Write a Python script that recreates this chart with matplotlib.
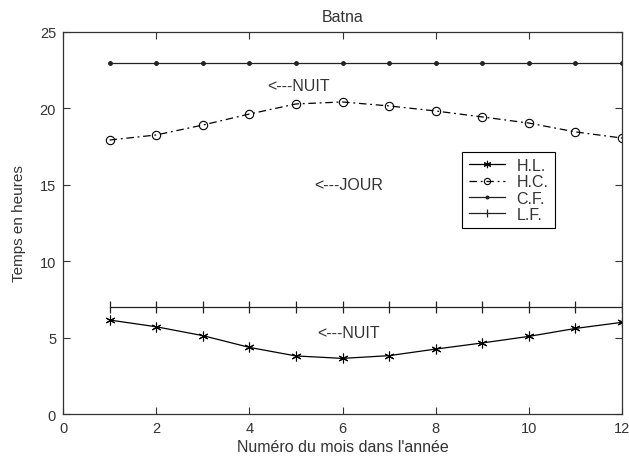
import matplotlib
matplotlib.use("Agg")
import matplotlib.pyplot as plt

plt.rcParams['font.family'] = ['Liberation Sans', 'DejaVu Sans']

months = [1, 2, 3, 4, 5, 6, 7, 8, 9, 10, 11, 12]
hl = [6.15, 5.71, 5.13, 4.36, 3.80, 3.64, 3.82, 4.25, 4.65, 5.08, 5.60, 6.00]
hc = [17.93, 18.26, 18.91, 19.63, 20.29, 20.42, 20.16, 19.83, 19.44, 19.04, 18.46, 18.06]
cf = [23] * 12
lf = [7] * 12

ink = '#333333'

fig = plt.figure(figsize=(6.29, 4.60), dpi=100)
ax = fig.add_axes([0.1002, 0.0978, 0.8887, 0.8305])

ax.plot(months, hl, color='black', lw=0.9, marker=(6, 2, 0), ms=7, mew=0.8, label='H.L.')
ax.plot(months, hc, color='black', lw=0.9, ls=(0, (6, 3, 1.5, 3)), marker='o', ms=6,
        mfc='none', mew=0.8, label='H.C.')
ax.plot(months, cf, color='#222222', lw=0.9, marker='.', ms=5, label='C.F.')
ax.plot(months, lf, color='#222222', lw=0.9, marker='|', ms=8, mew=0.9, label='L.F.')

ax.set_xlim(0, 12)
ax.set_ylim(0, 25)
ax.set_xticks(range(0, 13, 2))
ax.set_yticks(range(0, 26, 5))
ax.tick_params(direction='in', top=True, right=True, length=5, width=0.8, labelsize=10.5,
               colors=ink, labelcolor=ink, pad=5)
for s in ax.spines.values():
    s.set_linewidth(0.9)
    s.set_color(ink)

ax.set_title('Batna', fontsize=11.5, color=ink, pad=8)
ax.set_xlabel("Numéro du mois dans l'année", fontsize=11.5, color=ink, labelpad=3)
ax.set_ylabel('Temps en heures', fontsize=11, color=ink, labelpad=10)

ax.text(4.38, 21.5, '<---NUIT', fontsize=11.5, color=ink, va='center')
ax.text(5.4, 15.0, '<---JOUR', fontsize=11.5, color=ink, va='center')
ax.text(5.45, 5.35, '<---NUIT', fontsize=11.5, color=ink, va='center')

leg = ax.legend(loc='upper left', bbox_to_anchor=(0.714, 0.687), fontsize=11.5, frameon=True,
                fancybox=False, edgecolor='black', framealpha=1, handlelength=2.3,
                borderpad=0.4, labelspacing=0.08, handletextpad=0.7, markerscale=0.75,
                borderaxespad=0)
leg.get_frame().set_linewidth(0.8)
for t in leg.get_texts():
    t.set_color(ink)

fig.savefig('out.png', dpi=100)
